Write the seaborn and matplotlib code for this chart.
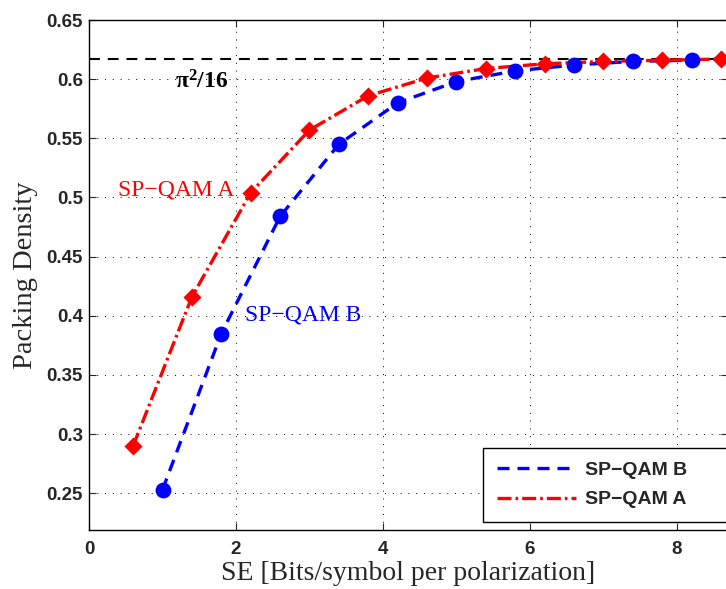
import numpy as np
import pandas as pd
import matplotlib
matplotlib.use('Agg')
import matplotlib.pyplot as plt
import seaborn as sns

# SE values (bits/symbol per polarization) and packing density
se_b = [1.0, 1.8, 2.6, 3.4, 4.2, 5.0, 5.8, 6.6, 7.4, 8.2]
pd_b = [0.253, 0.385, 0.484, 0.545, 0.580, 0.598, 0.607, 0.612, 0.615, 0.616]

se_a = [0.6, 1.4, 2.2, 3.0, 3.8, 4.6, 5.4, 6.2, 7.0, 7.8, 8.6]
pd_a = [0.290, 0.416, 0.504, 0.557, 0.586, 0.601, 0.609, 0.613, 0.615, 0.616, 0.617]

limit = np.pi ** 2 / 16
x_ticks = [0, 2, 4, 6, 8]
y_ticks = [0.25, 0.3, 0.35, 0.4, 0.45, 0.5, 0.55, 0.6, 0.65]

df_b = pd.DataFrame({'se': se_b, 'pd': pd_b})
df_a = pd.DataFrame({'se': se_a, 'pd': pd_a})

sns.set_style('ticks')
plt.rcParams['font.family'] = ['Liberation Sans', 'DejaVu Sans']
plt.rcParams['xtick.direction'] = 'in'
plt.rcParams['ytick.direction'] = 'in'
plt.rcParams['mathtext.fontset'] = 'custom'
plt.rcParams['mathtext.rm'] = 'Liberation Serif:bold'
plt.rcParams['mathtext.it'] = 'Liberation Serif:bold'
plt.rcParams['mathtext.bf'] = 'Liberation Serif:bold'

fig = plt.figure(figsize=(7.26, 5.89), dpi=100)
# axes run slightly past the right edge (reference is cropped there)
ax = fig.add_axes([89 / 726, 59 / 589, 639 / 726, 510 / 589])

blue = (0, 0, 1)
red = (1, 0, 0)

ax.axhline(limit, color='black', lw=1.5, linestyle=(0, (5.2, 3.8)), zorder=1)

sns.lineplot(data=df_b, x='se', y='pd', ax=ax, color=blue, lw=2.4,
             linestyle=(0, (3.6, 2.4)), label='SP\u2212QAM B', zorder=3)
sns.lineplot(data=df_a, x='se', y='pd', ax=ax, color=red, lw=2.4,
             linestyle=(0, (4.2, 1.2, 0.8, 1.2)), label='SP\u2212QAM A', zorder=3)
sns.scatterplot(data=df_b, x='se', y='pd', ax=ax, color=blue, marker='o',
                s=130, edgecolor=blue, linewidth=0, legend=False, zorder=4)
sns.scatterplot(data=df_a, x='se', y='pd', ax=ax, color=red, marker='D',
                s=85, edgecolor=red, linewidth=0, legend=False, zorder=4)

ax.set_xlim(0, 639 / 73.5)
ax.set_ylim(0.219, 0.65)
ax.set_xticks(x_ticks)
ax.set_yticks(y_ticks)
ax.set_xticklabels([str(t) for t in x_ticks], fontweight='bold', fontsize=13.5)
ax.set_yticklabels([f'{t:g}' for t in y_ticks], fontweight='bold', fontsize=13.5)
ax.tick_params(top=True, right=True, length=5, width=0.8)
ax.tick_params(axis='x', pad=8)
ax.tick_params(axis='y', pad=4.5)
ax.grid(True, color='black', linestyle=(0, (1, 7)), lw=0.7)

ax.set_xlabel('SE [Bits/symbol per polarization]', family='Liberation Serif',
              fontsize=20, labelpad=2)
ax.set_ylabel('Packing Density', family='Liberation Serif', fontsize=20.5, labelpad=6)

ax.text(1.17, 0.5924, '$\\mathrm{\u03c0}^{2}\\mathrm{/16}$', fontsize=17, color='black')
ax.text(0.395, 0.5015, 'SP\u2212QAM A', family='Liberation Serif', fontsize=17, color=red)
ax.text(2.12, 0.396, 'SP\u2212QAM B', family='Liberation Serif', fontsize=17, color=blue)

for sp in ax.spines.values():
    sp.set_linewidth(1.0)
    sp.set_color('black')

leg = ax.legend(loc='lower left', bbox_to_anchor=(0.6166, 0.0157, 0.45, 0.157), mode='expand',
                fancybox=False, edgecolor='black', framealpha=1, handlelength=4.1,
                handletextpad=0.46, prop={'weight': 'bold', 'size': 14},
                borderpad=0.7, labelspacing=0.6, borderaxespad=0)
leg.get_frame().set_linewidth(1.0)

fig.savefig('out.png', dpi=100)
